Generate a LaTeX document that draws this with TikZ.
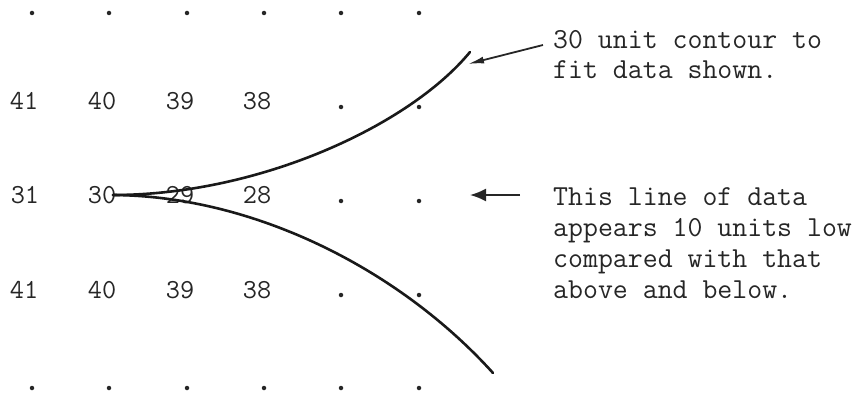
\documentclass[tikz,border=0pt]{standalone}
\usepackage{fontspec}
\usetikzlibrary{arrows.meta}

\begin{document}
\begin{tikzpicture}[
    x=1pt, y=-1pt,
    >=Latex,
    num/.style={font=\ttfamily\fontsize{27.5}{27}\selectfont\addfontfeature{FakeBold=1.2}, anchor=base, inner sep=0pt, text=black!85},
    blip/.style={circle, fill=black!85, inner sep=0pt, minimum size=4.5pt},
    note/.style={font=\ttfamily\fontsize{29}{31}\selectfont\addfontfeature{FakeBold=1.2}, align=left, anchor=base west, inner sep=0pt, text=black!85},
    contour/.style={line width=2.6pt, line cap=round, black!90},
  ]
  \useasboundingbox (0,0) rectangle (865,396);

  % Dots above and below
  \foreach \x [count=\i] in {32,109,187,264,341,419} {
    \node[blip] (top\i) at (\x,13) {};
    \node[blip] (bot\i) at (\x,388) {};
  }

  % Data rows
  \foreach \v/\x [count=\i] in {41/24,40/102,39/180,38/257} {
    \node[num] (upper\i) at (\x,110) {\v};
    \node[num] (lower\i) at (\x,298) {\v};
  }
  \foreach \v/\x [count=\i] in {31/25,30/102,29/180,28/257}
    \node[num] (mid\i) at (\x,203) {\v};
  \foreach \y/\r in {107/upper,201/mid,295/lower} {
    \node[blip] (\r5) at (341,\y) {};
    \node[blip] (\r6) at (419,\y) {};
  }

  % Contour
  \coordinate (fork) at (113,195);
  \draw[contour] (fork) .. controls (260,195) and (410,125) .. (470,52);
  \draw[contour] (fork) .. controls (255,196) and (400,270) .. (493,373);

  % Notes (anchored on the last line)
  \node[note] (fitnote) at (553,79) {30 unit contour to\\fit data shown.};
  \node[note] (lownote) at (553,298) {This line of data\\appears 10 units low\\compared with that\\above and below.};

  \coordinate (tipA) at (468,64);
  \coordinate (tipB) at (470,195);
  \draw[line width=1.8pt, black!85, -{Latex[length=16pt,width=7pt]}]
    ([xshift=-10pt,yshift=34pt]fitnote.base west) -- (tipA);
  \draw[line width=1.8pt, black!85, -{Latex[length=16pt,width=13pt]}]
    ([xshift=-33pt,yshift=103pt]lownote.base west) -- (tipB);
\end{tikzpicture}
\end{document}
